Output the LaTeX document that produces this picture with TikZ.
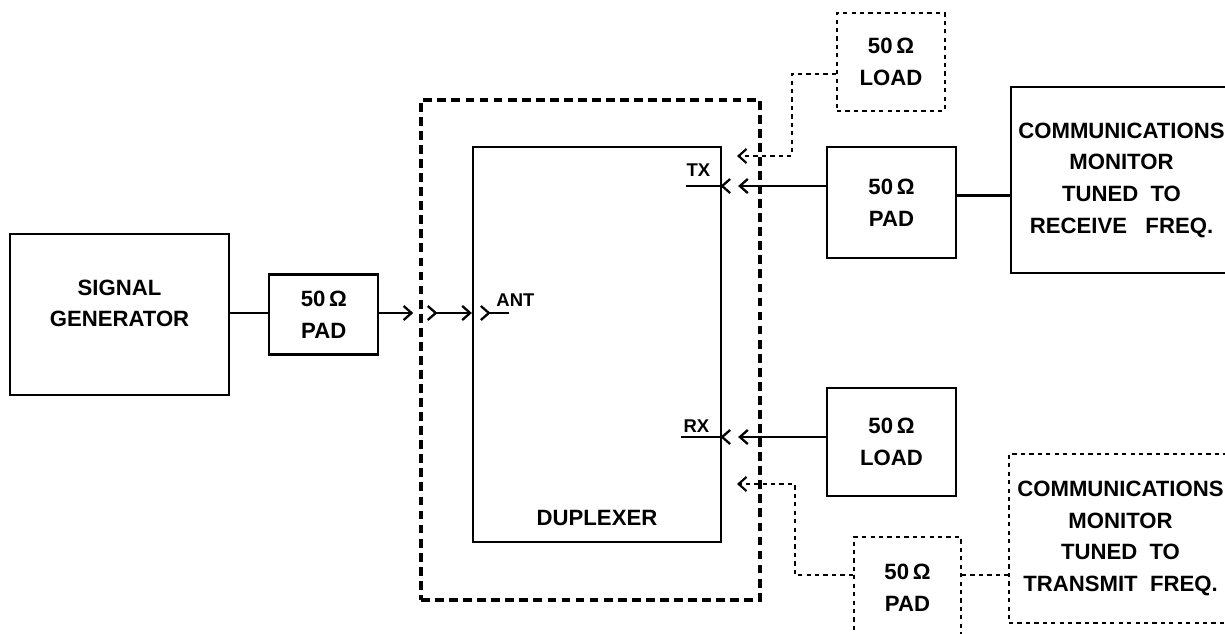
\documentclass[tikz,border=0pt]{standalone}
\usepackage{fontspec}
\setmainfont{Liberation Sans}
\usetikzlibrary{arrows.meta, positioning, calc}

\begin{document}
\begin{tikzpicture}[
    boxtext/.style={align=center, font=\bfseries\fontsize{12.6}{18}\selectfont},
    block/.style={
        rectangle, draw=black, line width=1.3pt, boxtext
    },
    spare/.style={block, line width=1.2pt, dash pattern=on 2.4pt off 2.4pt},
    housing/.style={rectangle, draw=black, line width=2pt, dash pattern=on 5pt off 3pt},
    sigline/.style={line width=1.3pt},
    dotline/.style={line width=1.2pt, dash pattern=on 2.4pt off 2.4pt},
    portlabel/.style={font=\bfseries\fontsize{10.5}{12}\selectfont, inner sep=1pt},
    >={Straight Barb[length=4.5pt,width=8pt]},
    chev/.pic={\draw[sigline] (-0.16,0.14) -- (0,0) -- (-0.16,-0.14);}
]
    \useasboundingbox (0,0) rectangle (24.5,-12.66);
    \clip (0,0) rectangle (24.5,-12.66);

    % test set-up
    \node[block, minimum width=4.38cm, minimum height=3.22cm] (siggen) at (2.39,-6.29) {};
    \node[boxtext] (siggentext) at ($(siggen.center)+(0,0.22)$) {SIGNAL\\GENERATOR};
    \node[block, minimum width=2.18cm, minimum height=1.6cm, right=0.76cm of siggen] (pad1) {50\,Ω\\PAD};
    \node[housing, minimum width=6.78cm, minimum height=10cm] (housing) at (11.81,-7.0) {};
    \node[block, minimum width=4.96cm, minimum height=7.9cm] (duplexer) at (11.94,-6.89) {};
    \node[boxtext, above=0.22cm of duplexer.south] (duplabel) {DUPLEXER};

    \node[spare, minimum width=2.16cm, minimum height=1.96cm] (load1) at (17.82,-1.24) {50\,Ω\\LOAD};
    \node[block, minimum width=2.58cm, minimum height=2.22cm] (pad2) at (17.83,-4.05) {50\,Ω\\PAD};
    \node[block, minimum width=4.42cm, minimum height=3.72cm] (mon1) at (22.43,-3.6)
        {COMMUNICATIONS\\MONITOR\\TUNED\ \ TO\\RECEIVE\ \ \ FREQ.};
    \node[block, minimum width=2.58cm, minimum height=2.16cm] (load2) at (17.83,-8.84) {50\,Ω\\LOAD};
    \node[spare, minimum width=2.14cm, minimum height=2.04cm] (pad3) at (18.15,-11.76) {50\,Ω\\PAD};
    \node[spare, minimum width=4.46cm, minimum height=3.38cm] (mon2) at (22.41,-10.77)
        {COMMUNICATIONS\\MONITOR\\TUNED\ \ TO\\TRANSMIT\ \ FREQ.};

    % ports
    \coordinate (antport) at (duplexer.west |- 0,-6.26);
    \coordinate (txport) at (duplexer.east |- 0,-3.72);
    \coordinate (rxport) at (duplexer.east |- 0,-8.74);
    \coordinate (txaux) at (14.74,-3.12);
    \coordinate (rxaux) at (14.74,-9.68);

    % ANT side
    \draw[sigline] (siggen.east |- antport) -- (pad1.west |- antport);
    \draw[sigline, ->, shorten >=0.12cm] (pad1.east |- antport) -- (housing.west |- antport);
    \draw[sigline, ->] ($(housing.west |- antport)+(0.33,0)$) coordinate (antplug) -- (antport);
    \pic at (antplug) {chev};
    \pic at ($(antport)+(0.34,0)$) {chev};
    \draw[sigline] ($(antport)+(0.34,0)$) -- ++(0.4,0);
    \node[portlabel, anchor=south west] (antlabel) at ($(antport)+(0.45,0.085)$) {ANT};

    % TX side
    \draw[sigline] (txport) -- ++(-0.72,0);
    \node[portlabel, anchor=south west] (txlabel) at ($(txport)+(-0.755,0.145)$) {TX};
    \pic[rotate=180] at (txport) {chev};
    \draw[sigline, ->] (pad2.west |- txport) -- ($(txport)+(0.32,0)$);
    \draw[sigline] ($(pad2.east)+(0,0.14)$) coordinate (p2out) -- (p2out -| mon1.west);
    \draw[dotline, ->] ($(load1.west)+(0,-0.24)$) -- ++(-0.88,0) |- (txaux);

    % RX side
    \draw[sigline] (rxport) -- ++(-0.82,0);
    \node[portlabel, anchor=south west] (rxlabel) at ($(rxport)+(-0.815,0.045)$) {RX};
    \pic[rotate=180] at (rxport) {chev};
    \draw[sigline, ->] (load2.west |- rxport) -- ($(rxport)+(0.32,0)$);
    \draw[dotline, ->] ($(pad3.west)+(0,0.26)$) -- ++(-1.16,0) |- (rxaux);
    \draw[dotline] ($(pad3.east)+(0,0.26)$) coordinate (p3out) -- (p3out -| mon2.west);
\end{tikzpicture}
\end{document}
